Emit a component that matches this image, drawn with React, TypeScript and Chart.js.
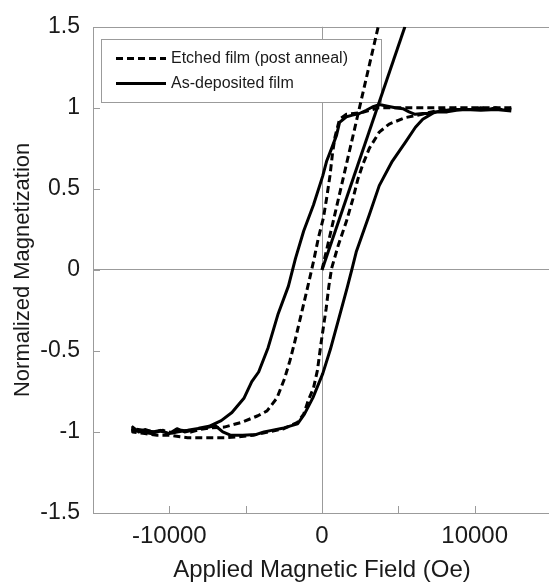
import React, { useEffect, useRef } from 'react';
import { Chart, registerables } from 'chart.js';

Chart.register(...registerables);

const FONT = '"Liberation Sans", Arial, Helvetica, sans-serif';
const GRID = '#9b9b9b';
const TEXT = '#1a1a1a';

// ---- labels & ticks ----
const SERIES_LABELS = ['Etched film (post anneal)', 'As-deposited film'];
const X_TITLE = 'Applied Magnetic Field (Oe)';
const Y_TITLE = 'Normalized Magnetization';
const X_TICK_VALUES = [-15000, -10000, -5000, 0, 5000, 10000, 15000];
const X_TICK_LABELS = [-10000, 0, 10000];
const Y_TICK_VALUES = [-1.5, -1, -0.5, 0, 0.5, 1, 1.5];

// ---- As-deposited film (solid) : descending branch ----
const asDepDownX = [12400, 11900, 11400, 10900, 10400, 9900, 9400, 8800, 8200, 7600, 7100, 6600, 6100, 5700, 5300, 4800, 4300, 3750, 3300, 2900, 2450, 2000, 1600, 1150, 950, 630, 300, 50, -560, -1200, -1740, -2200, -2870, -3530, -4150, -4600, -5100, -5900, -6600, -7400, -8000, -8500, -9000, -9500, -10000, -10600, -11100, -11600, -12000, -12400];
const asDepDownY = [1.0, 0.985, 1.0, 0.99, 1.0, 0.99, 0.99, 0.985, 0.975, 0.975, 0.965, 0.965, 0.96, 0.975, 0.995, 1.0, 1.01, 1.02, 1.005, 0.985, 0.965, 0.955, 0.945, 0.91, 0.83, 0.75, 0.67, 0.58, 0.40, 0.24, 0.07, -0.1, -0.27, -0.48, -0.63, -0.69, -0.79, -0.88, -0.93, -0.965, -0.975, -0.99, -1.0, -0.98, -1.01, -0.99, -1.0, -0.985, -1.0, -0.97];
// ascending branch
const asDepUpX = [-12400, -11800, -11200, -10600, -10000, -9500, -8800, -8200, -7600, -7000, -6500, -6000, -5200, -4300, -3800, -3300, -2500, -1600, -1150, -600, 50, 550, 1100, 1650, 1950, 2240, 3100, 3750, 4600, 5480, 6120, 6600, 7400, 8500, 9400, 10400, 11400, 12400];
const asDepUpY = [-0.99, -1.0, -1.01, -0.995, -1.01, -1.0, -0.99, -0.98, -0.975, -0.96, -1.0, -1.02, -1.02, -1.015, -1.0, -0.99, -0.975, -0.95, -0.89, -0.79, -0.64, -0.49, -0.3, -0.11, 0.0, 0.11, 0.34, 0.52, 0.67, 0.79, 0.88, 0.93, 0.975, 0.99, 0.99, 0.985, 0.99, 0.98];
// initial slope line
const asDepInitX = [0, 5430];
const asDepInitY = [0, 1.5];

// ---- Etched film (dashed) : descending branch ----
const etchDownX = [12400, 11000, 9500, 8000, 6500, 5000, 3700, 2600, 1600, 1150, 850, 690, 520, 300, 90, -230, -560, -850, -1000, -1350, -1800, -2100, -2450, -2950, -3600, -4200, -5250, -6400, -7300, -8000, -8600, -9200, -9800, -10400, -11000, -11600, -12400];
const etchDownY = [1.0, 1.0, 1.0, 1.0, 1.0, 1.0, 1.0, 0.97, 0.96, 0.93, 0.82, 0.72, 0.58, 0.44, 0.32, 0.2, 0.05, -0.07, -0.13, -0.27, -0.45, -0.56, -0.67, -0.79, -0.87, -0.9, -0.94, -0.97, -0.975, -0.985, -1.0, -0.99, -1.005, -0.99, -1.0, -0.99, -0.98];
// ascending branch
const etchUpX = [-12400, -11600, -10800, -10000, -9300, -8800, -7500, -6200, -5500, -4500, -3500, -2500, -1600, -1200, -880, -560, -300, -60, 270, 450, 630, 1060, 1600, 2030, 2350, 2670, 3100, 3750, 4400, 5470, 6550, 7400, 9000, 10500, 12400];
const etchUpY = [-1.0, -1.01, -1.02, -1.02, -1.03, -1.035, -1.035, -1.035, -1.03, -1.02, -1.0, -0.98, -0.94, -0.89, -0.8, -0.73, -0.62, -0.45, -0.24, -0.1, 0.01, 0.15, 0.30, 0.44, 0.56, 0.65, 0.75, 0.85, 0.9, 0.94, 0.96, 0.98, 1.0, 1.0, 1.0];
// initial slope line
const etchInitX = [0, 3680];
const etchInitY = [0, 1.5];

const zip = (xs: number[], ys: number[]) => xs.map((x, i) => ({ x, y: ys[i] }));

const DASH = [7, 4];

const framePlugin = {
  id: 'frameAndLegend',
  beforeDatasetsDraw(chart: any) {
    const { ctx, chartArea: a, scales } = chart;
    const xs = scales.x;
    const ys = scales.y;
    ctx.save();
    ctx.strokeStyle = GRID;
    ctx.lineWidth = 1;
    ctx.setLineDash([]);
    // plot frame
    ctx.strokeRect(Math.round(a.left) + 0.5, Math.round(a.top) + 0.5, a.right - a.left, Math.round(a.bottom - a.top));
    // inward tick marks
    const L = 7;
    ctx.beginPath();
    xs.ticks.forEach((t: any) => {
      const px = Math.round(xs.getPixelForValue(t.value)) + 0.5;
      ctx.moveTo(px, a.bottom);
      ctx.lineTo(px, a.bottom - L);
    });
    ys.ticks.forEach((t: any) => {
      const py = Math.round(ys.getPixelForValue(t.value)) + 0.5;
      ctx.moveTo(a.left, py);
      ctx.lineTo(a.left + L, py);
    });
    ctx.stroke();

    // legend box
    const lx = Math.round(a.left + 8);
    const ly = Math.round(a.top + 12);
    const lw = 280;
    const lh = 63;
    ctx.fillStyle = '#ffffff';
    ctx.fillRect(lx, ly, lw, lh);
    ctx.strokeStyle = GRID;
    ctx.strokeRect(lx + 0.5, ly + 0.5, lw, lh);
    const items = chart.data.datasets.filter((d: any) => d.inLegend);
    items.forEach((d: any, i: number) => {
      const cy = ly + 19.5 + i * 25;
      ctx.setLineDash(d.borderDash || []);
      ctx.lineWidth = 2.8;
      ctx.strokeStyle = d.borderColor;
      ctx.beginPath();
      ctx.moveTo(lx + 15, cy);
      ctx.lineTo(lx + 65, cy);
      ctx.stroke();
      ctx.setLineDash([]);
      ctx.fillStyle = TEXT;
      ctx.font = `16px ${FONT}`;
      ctx.textBaseline = 'middle';
      ctx.textAlign = 'left';
      ctx.fillText(d.label, lx + 70, cy);
    });
    ctx.restore();
  },
};

export default function App() {
  const ref = useRef<HTMLCanvasElement>(null);

  useEffect(() => {
    const canvas = ref.current;
    if (!canvas) return;
    const common = {
      showLine: true,
      pointRadius: 0,
      pointHoverRadius: 0,
      borderColor: '#000000',
      backgroundColor: '#000000',
      borderWidth: 3,
      tension: 0,
      fill: false,
      borderCapStyle: 'butt',
      borderJoinStyle: 'round',
    };
    const chart = new Chart(canvas, {
      type: 'scatter',
      data: {
        datasets: [
          {
            ...common,
            label: SERIES_LABELS[0],
            inLegend: true,
            borderDash: DASH,
            data: [...zip(etchDownX, etchDownY), ...zip(etchUpX, etchUpY)],
          },
          {
            ...common,
            label: SERIES_LABELS[0] + ' slope',
            borderDash: DASH,
            data: zip(etchInitX, etchInitY),
          },
          {
            ...common,
            label: SERIES_LABELS[1],
            inLegend: true,
            data: [...zip(asDepDownX, asDepDownY), ...zip(asDepUpX, asDepUpY)],
          },
          {
            ...common,
            label: SERIES_LABELS[1] + ' slope',
            data: zip(asDepInitX, asDepInitY),
          },
        ] as any,
      },
      options: {
        responsive: false,
        animation: false,
        devicePixelRatio: 1,
        layout: { padding: { left: 0, right: 3, top: 25, bottom: 0 } },
        plugins: {
          legend: { display: false },
          tooltip: { enabled: false },
        },
        scales: {
          x: {
            type: 'linear',
            min: -15000,
            max: 15000,
            afterBuildTicks: (s: any) => {
              s.ticks = X_TICK_VALUES.map((v) => ({ value: v }));
            },
            afterFit: (s: any) => {
              s.height = 72;
            },
            grid: {
              drawTicks: false,
              lineWidth: 1,
              color: (c: any) => (c.tick && c.tick.value === 0 ? GRID : 'rgba(0,0,0,0)'),
            },
            border: { display: false },
            ticks: {
              autoSkip: false,
              maxRotation: 0,
              padding: 9,
              color: TEXT,
              font: { family: FONT, size: 24 },
              callback: (v: any) => (X_TICK_LABELS.includes(Number(v)) ? String(v) : ''),
            },
            title: {
              display: true,
              text: X_TITLE,
              color: TEXT,
              font: { family: FONT, size: 24, lineHeight: 1.2 },
              padding: { top: 0, bottom: 0 },
            },
          },
          y: {
            type: 'linear',
            min: -1.5,
            max: 1.5,
            afterBuildTicks: (s: any) => {
              s.ticks = Y_TICK_VALUES.map((v) => ({ value: v }));
            },
            afterFit: (s: any) => {
              s.width = 93;
            },
            grid: {
              drawTicks: false,
              lineWidth: 1,
              color: (c: any) => (c.tick && c.tick.value === 0 ? GRID : 'rgba(0,0,0,0)'),
            },
            border: { display: false },
            ticks: {
              padding: 13,
              color: TEXT,
              font: { family: FONT, size: 23 },
              callback: (v: any) => String(v),
            },
            title: {
              display: true,
              text: Y_TITLE,
              color: TEXT,
              font: { family: FONT, size: 22, lineHeight: 1.2 },
              padding: { top: 10, bottom: 0 },
            },
          },
        },
      } as any,
      plugins: [framePlugin],
    });
    return () => chart.destroy();
  }, []);

  return (
    <div
      style={{
        position: 'absolute',
        left: 0,
        top: 0,
        width: 549,
        height: 585,
        overflow: 'hidden',
        background: '#ffffff',
      }}
    >
      <canvas ref={ref} width={560} height={585} style={{ display: 'block', width: 560, height: 585 }} />
    </div>
  );
}
